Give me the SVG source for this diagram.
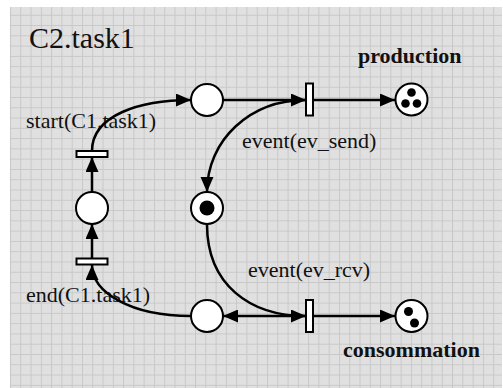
<svg xmlns="http://www.w3.org/2000/svg" width="503" height="388" viewBox="0 0 503 388">
<style>
.lbl{font-family:"Liberation Serif","Times New Roman",serif;font-size:22px;fill:#111}
.bold{font-weight:bold}
.title{font-family:"Liberation Serif","Times New Roman",serif;font-size:30px;fill:#111}
.arc{fill:none;stroke:#000;stroke-width:2.5}
.place{fill:#fff;stroke:#000;stroke-width:2}
.trans{fill:#fff;stroke:#000;stroke-width:2}
.tok{fill:#000}
</style>
<defs>
<pattern id="grid" x="10" y="4.5" width="10.28" height="10.28" patternUnits="userSpaceOnUse">
<rect width="10.28" height="10.28" fill="#e0e0e0"/>
<path d="M0,0.5 H10.28 M0.5,0 V10.28" stroke="#c8c8c8" stroke-width="1"/>
</pattern>
<marker id="ah" markerUnits="userSpaceOnUse" markerWidth="16" markerHeight="14" refX="15" refY="6.5" orient="auto">
<path d="M0,0 L15,6.5 L0,13 z" fill="#000"/>
</marker>
<marker id="ahs" markerUnits="userSpaceOnUse" markerWidth="16" markerHeight="14" refX="0" refY="6.5" orient="auto">
<path d="M15,0 L0,6.5 L15,13 z" fill="#000"/>
</marker>
</defs>
<rect x="10" y="7" width="492" height="381" fill="url(#grid)"/>
<g id="labels">
<text class="title" x="29" y="47.5">C2.task1</text>
<text class="lbl" x="26" y="128">start(C1.task1)</text>
<text class="lbl" x="26" y="302">end(C1.task1)</text>
<text class="lbl" x="242" y="148">event(ev_send)</text>
<text class="lbl" x="248" y="277">event(ev_rcv)</text>
<text class="lbl bold" x="358" y="63">production</text>
<text class="lbl bold" x="343" y="357">consommation</text>
</g>
<g id="connectors">
<path class="arc" d="M92,151 C92,115 140,100 191,100" marker-end="url(#ah)"/>
<path class="arc" d="M223,100 L306,100" marker-end="url(#ah)"/>
<path class="arc" d="M313,100 L395,100" marker-end="url(#ah)"/>
<path class="arc" d="M306,100 C250,100 207,140 207,192" marker-end="url(#ah)"/>
<path class="arc" d="M207,224 C207,285 250,316 306,316" marker-end="url(#ah)"/>
<path class="arc" d="M223,316 L306,316" marker-start="url(#ahs)"/>
<path class="arc" d="M313,316 L395,316" marker-end="url(#ah)"/>
<path class="arc" d="M191,316 C130,316 92,292 92,265" marker-end="url(#ah)"/>
<path class="arc" d="M92,258 L92,224" marker-end="url(#ah)"/>
<path class="arc" d="M92,192 L92,157" marker-end="url(#ah)"/>
</g>
<g id="p_top"><circle class="place" cx="207" cy="100" r="16"/></g>
<g id="p_left"><circle class="place" cx="92" cy="208" r="16"/></g>
<g id="p_mid"><circle class="place" cx="207" cy="208" r="16"/><circle class="tok" cx="207" cy="208" r="7.5"/></g>
<g id="p_bottom"><circle class="place" cx="207" cy="316" r="16"/></g>
<g id="p_production"><circle class="place" cx="411.5" cy="99.5" r="16"/>
<circle class="tok" cx="411.5" cy="92.5" r="4.3"/><circle class="tok" cx="405.5" cy="103.5" r="4.3"/><circle class="tok" cx="417" cy="103.5" r="4.3"/></g>
<g id="p_consommation"><circle class="place" cx="411.5" cy="316" r="16"/>
<circle class="tok" cx="408.5" cy="311.5" r="4.5"/><circle class="tok" cx="414.5" cy="323" r="4.5"/></g>
<g id="t_send"><rect class="trans" x="306" y="83.5" width="7" height="32"/></g>
<g id="t_rcv"><rect class="trans" x="306" y="300" width="7" height="32"/></g>
<g id="t_start"><rect class="trans" x="76.5" y="151" width="31" height="6"/></g>
<g id="t_end"><rect class="trans" x="76.5" y="258.5" width="31" height="6"/></g>
</svg>
